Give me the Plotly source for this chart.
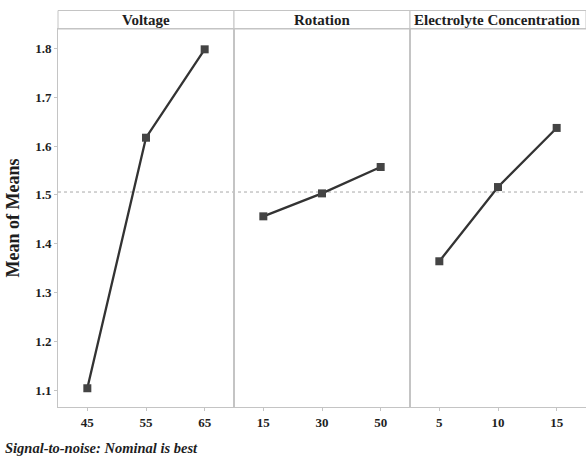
import plotly.graph_objects as go
from plotly.subplots import make_subplots

factors = ["Voltage", "Rotation", "Electrolyte Concentration"]
voltage_levels = ["45", "55", "65"]
voltage_means = [1.104, 1.617, 1.798]
rotation_levels = ["15", "30", "50"]
rotation_means = [1.456, 1.503, 1.557]
electrolyte_levels = ["5", "10", "15"]
electrolyte_means = [1.364, 1.516, 1.637]
y_ticks = [1.1, 1.2, 1.3, 1.4, 1.5, 1.6, 1.7, 1.8]
footer = "Signal-to-noise: Nominal is best"

levels = [voltage_levels, rotation_levels, electrolyte_levels]
means = [voltage_means, rotation_means, electrolyte_means]
grand_mean = sum(sum(m) for m in means) / sum(len(m) for m in means)

W, H = 586, 458
ML, MR, MT, MB = 58, 0, 29, 51
plot_h = H - MT - MB
header_h = 18.5

fig = make_subplots(rows=1, cols=3, shared_yaxes=True, horizontal_spacing=0)

SERIF = "Liberation Serif"
GRID = "#c4c4c4"
TXT = "#1e1e1e"

for i in range(3):
    fig.add_trace(go.Scatter(
        x=levels[i], y=means[i], mode="lines+markers",
        line=dict(color="#333333", width=2.3),
        marker=dict(symbol="square", size=8, color="#444444"),
        showlegend=False, hoverinfo="x+y"), row=1, col=i + 1)
    fig.update_xaxes(type="category", range=[-0.5, 2.5], showline=True, mirror=True,
                     linecolor=GRID, linewidth=1, ticks="outside", ticklen=3,
                     tickcolor=GRID, showgrid=False, zeroline=False,
                     tickfont=dict(family=SERIF, size=13, color=TXT, weight="bold"),
                     row=1, col=i + 1)
    fig.update_yaxes(range=[1.0656, 1.8396], showline=True, mirror=True,
                     linecolor=GRID, linewidth=1, showgrid=False, zeroline=False,
                     tickvals=y_ticks, ticks="outside" if i == 0 else "",
                     ticklen=3, tickcolor=GRID,
                     tickfont=dict(family=SERIF, size=13, color=TXT, weight="bold"),
                     row=1, col=i + 1)

fig.update_yaxes(title=dict(text="Mean of Means",
                            font=dict(family=SERIF, size=18, color=TXT, weight="bold"), standoff=10),
                 row=1, col=1)

shapes = []
annotations = []
hy0 = 1.0
hy1 = 1.0 + header_h / plot_h
for i, name in enumerate(factors):
    x0 = i / 3
    x1 = (i + 1) / 3
    shapes.append(dict(type="rect", xref="paper", yref="paper", x0=x0, x1=x1, y0=hy0, y1=hy1,
                       line=dict(color=GRID, width=1), fillcolor="white", layer="below"))
    annotations.append(dict(text=name, xref="paper", yref="paper",
                            x=(x0 + x1) / 2, y=(hy0 + hy1) / 2, showarrow=False,
                            xanchor="center", yanchor="middle",
                            font=dict(family=SERIF, size=15, color=TXT, weight="bold")))

shapes.append(dict(type="line", xref="paper", yref="y", x0=0, x1=1, y0=grand_mean, y1=grand_mean,
                   line=dict(color="#a8a8a8", width=1, dash="3px,3px"), layer="below"))

annotations.append(dict(text=footer, xref="paper", yref="paper",
                        x=-ML / (W - ML - MR) + 3 / (W - ML - MR), y=-(458 - 407) / plot_h,
                        xanchor="left", yanchor="bottom", showarrow=False,
                        font=dict(family=SERIF, size=14.5, color=TXT, weight="bold", style="italic")))

fig.update_layout(width=W, height=H, margin=dict(l=ML, r=MR, t=MT, b=MB),
                  plot_bgcolor="white", paper_bgcolor="white",
                  shapes=shapes, annotations=annotations)

fig.write_html("out.html")
